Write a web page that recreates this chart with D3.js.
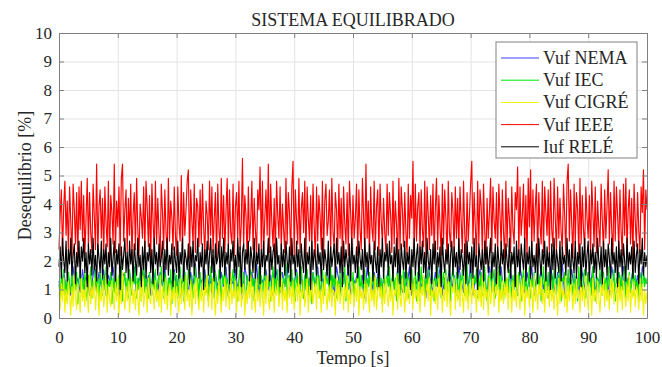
<!DOCTYPE html>
<html>
<head>
<meta charset="utf-8">
<script src="https://cdn.jsdelivr.net/npm/d3@7"></script>
<style>
    body { margin: 0; background: #fff; }
    text { font-family: "Liberation Serif", "Times New Roman", serif; fill: #262626; }
</style>
</head>
<body>
<svg id="chart"></svg>
<script>
// sampling steps of the recorded signals [s]
const dt = 0.2;
const dtNema = 0.4;
const xTicks = [0, 10, 20, 30, 40, 50, 60, 70, 80, 90, 100];
const yTicks = [0, 1, 2, 3, 4, 5, 6, 7, 8, 9, 10];
const seriesNames = ['Vuf NEMA', 'Vuf IEC', 'Vuf CIGRÉ', 'Vuf IEEE', 'Iuf RELÉ'];

const vufNema = [
    1.3,0.9,1.7,1.0,1.5,0.8,1.8,1.1,1.4,0.9, 1.7,1.0,1.5,0.8,1.2,1.8,0.9,1.6,1.1,1.7,
    0.8,1.5,1.2,1.8,1.0,1.3,0.7,1.6,1.4,0.9, 1.6,1.1,1.8,0.8,1.4,1.2,1.7,1.0,1.5,0.8,
    1.7,1.3,0.9,1.6,1.1,1.8,0.8,1.4,1.2,1.7, 1.0,1.5,0.7,1.8,1.3,0.9,1.6,1.1,1.9,0.8,
    1.4,1.2,1.7,0.9,1.5,0.8,1.8,1.3,1.0,1.6, 1.1,1.8,0.8,1.4,1.2,1.7,1.0,1.5,0.7,1.8,
    1.3,0.9,1.6,1.1,1.9,0.8,1.4,1.2,1.7,1.0, 1.5,0.8,1.8,1.3,0.9,1.6,1.1,1.8,0.8,1.4,
    1.2,1.7,1.0,1.5,0.7,1.8,1.3,0.9,1.6,1.1, 1.8,0.8,1.4,1.2,1.7,1.0,1.5,0.8,1.8,1.3,
    0.9,1.6,1.1,1.8,0.8,1.4,1.2,1.7,1.0,1.5, 0.7,1.8,1.3,0.9,1.6,1.1,1.9,0.8,1.4,1.2,
    1.7,1.0,1.5,0.8,1.8,1.3,0.9,1.6,1.1,1.8, 0.8,1.4,1.2,1.7,1.0,1.5,0.7,1.8,1.3,0.9,
    1.6,1.1,1.8,0.8,1.4,1.2,1.7,1.0,1.5,0.8, 1.8,1.3,0.9,1.6,1.1,1.9,0.8,1.4,1.2,1.7,
    1.0,1.5,0.7,1.8,1.3,0.9,1.6,1.1,1.8,0.8, 1.4,1.2,1.7,1.0,1.5,0.8,1.8,1.3,0.9,1.6,
    1.1,1.8,0.8,1.4,1.2,1.7,1.0,1.5,0.7,1.8, 1.3,0.9,1.6,1.1,1.9,0.8,1.4,1.2,1.7,1.0,
    1.5,0.8,1.8,1.3,0.9,1.6,1.1,1.8,0.8,1.4, 1.2,1.7,1.0,1.5,0.7,1.8,1.3,0.9,1.6,1.1,
    1.8,0.8,1.4,1.2,1.7,1.0,1.5,0.8,1.8,1.3, 1.2
];
const vufIec = [
    1.2,0.7,1.5,1.0,1.7,0.8,1.3,0.6,1.6,1.1,0.9,1.8,0.7,1.4,1.0,1.6,0.5,1.3,1.7,0.9,
    1.4,0.8,1.6,1.1,0.6,1.5,1.2,1.8,0.7,1.3,1.0,1.7,0.9,1.4,0.6,1.6,1.2,0.8,1.5,1.0,
    1.8,0.7,1.3,1.1,1.6,0.5,1.4,0.9,1.7,1.2,0.8,1.5,1.0,1.8,0.6,1.3,1.6,0.9,1.4,0.7,
    1.7,1.1,0.8,1.5,1.2,1.9,0.7,1.4,1.0,1.6,0.6,1.3,1.8,0.9,1.5,1.1,0.7,1.6,1.2,0.8,
    1.4,1.0,1.7,0.6,1.3,1.5,0.9,1.8,1.1,0.7,1.6,1.2,0.8,1.4,1.0,1.7,0.5,1.3,1.6,0.9,
    1.5,0.7,1.2,1.8,1.0,1.4,0.6,1.6,1.1,0.8,1.7,1.3,0.9,1.5,0.7,1.2,1.8,1.0,1.4,0.6,
    1.6,1.1,0.8,1.7,1.3,0.9,1.5,0.6,1.2,1.8,1.0,1.4,0.7,1.6,1.1,0.8,1.7,1.3,0.5,1.5,
    1.2,1.8,0.9,1.4,0.7,1.6,1.0,1.3,1.7,0.8,1.5,1.1,0.6,1.4,1.8,0.9,1.2,1.6,1.0,0.7,
    1.5,1.3,0.8,1.7,1.1,1.4,0.6,1.6,1.2,0.9,1.8,1.0,1.5,0.7,1.3,1.7,0.8,1.4,1.1,1.6,
    0.6,1.2,1.8,0.9,1.5,1.0,1.7,0.7,1.3,1.6,0.8,1.4,1.1,1.9,0.7,1.2,1.5,1.0,1.7,0.8,
    1.4,0.6,1.6,1.1,1.3,0.9,1.8,1.2,0.7,1.5,1.0,1.7,0.8,1.4,1.2,0.5,1.6,1.3,0.9,1.8,
    1.0,1.5,0.7,1.3,1.7,1.1,0.8,1.6,1.2,1.4,0.6,1.8,0.9,1.5,1.1,1.7,0.7,1.3,1.0,1.6,
    0.8,1.4,1.2,1.8,0.6,1.5,1.0,1.3,1.7,0.9,1.6,0.7,1.2,1.4,1.1,1.8,0.8,1.5,1.0,1.3,
    1.7,0.6,1.4,1.1,1.6,0.9,1.2,1.8,0.7,1.5,1.3,1.0,1.7,0.8,1.4,0.5,1.6,1.2,0.9,1.5,
    1.1,1.8,0.7,1.3,1.6,1.0,1.4,0.6,1.7,1.2,0.8,1.5,1.1,1.8,0.9,1.3,1.6,0.7,1.4,1.0,
    1.7,0.8,1.2,1.5,0.6,1.6,1.3,0.9,1.8,1.1,1.4,0.7,1.5,1.0,1.7,1.2,0.8,1.6,1.3,0.6,
    1.4,1.1,1.8,0.9,1.5,0.7,1.3,1.6,1.0,1.7,0.8,1.2,1.5,0.6,1.4,1.8,1.1,0.9,1.6,1.3,
    0.7,1.5,1.0,1.7,1.2,0.8,1.4,1.9,0.6,1.3,1.6,1.1,0.9,1.5,1.2,1.7,0.7,1.4,1.0,1.6,
    0.8,1.3,1.8,1.1,0.6,1.5,1.2,1.6,0.9,1.4,1.7,0.7,1.3,1.0,1.8,0.8,1.5,1.2,0.6,1.6,
    1.1,1.4,0.9,1.7,1.3,0.7,1.5,1.0,1.8,1.2,0.8,1.6,1.4,0.6,1.3,1.7,1.0,1.5,0.9,1.2,
    1.8,0.7,1.4,1.1,1.6,0.8,1.3,1.7,1.0,1.5,0.6,1.2,1.8,0.9,1.4,1.1,1.6,0.7,1.3,1.5,
    0.9,1.7,1.2,0.8,1.5,1.0,1.8,0.6,1.4,1.3,1.6,0.7,1.1,1.7,0.9,1.5,1.2,0.8,1.6,1.0,
    1.4,0.6,1.8,1.1,1.3,0.9,1.5,1.7,0.7,1.2,1.6,1.0,1.4,0.8,1.8,1.1,0.6,1.5,1.3,0.9,
    1.7,1.2,0.8,1.6,1.0,1.4,0.7,1.8,1.1,1.5,0.9,1.3,1.7,0.6,1.4,1.2,1.6,0.8,1.5,1.0,
    1.3,1.8,0.7,1.4,1.1,1.6,0.9,1.2,1.7,0.8,1.5,1.0,1.3,0.6,1.6,1.4,0.9,1.7,1.1,1.4,
    1.2
];
const vufCigre = [
    0.9,0.3,1.2,0.6,1.4,0.2,1.0,0.5,1.3,0.8,0.1,1.1,0.4,1.5,0.7,0.3,1.2,0.9,0.2,1.4,
    0.6,1.0,0.4,1.3,0.8,0.2,1.5,0.5,1.1,0.7,1.4,0.3,0.9,1.2,0.1,1.0,0.6,1.3,0.4,0.8,
    1.5,0.2,1.1,0.7,0.4,1.3,0.9,0.3,1.2,0.6,1.4,0.1,1.0,0.5,1.6,0.8,0.3,1.1,0.6,1.3,
    0.2,0.9,1.4,0.5,1.0,0.3,1.2,0.7,0.1,1.3,0.6,1.5,0.4,0.8,1.1,0.2,1.4,0.7,0.5,1.2,
    0.9,0.3,1.3,0.6,1.0,0.4,1.5,0.2,1.1,0.8,0.5,1.4,0.3,0.9,1.2,0.1,1.0,0.6,1.3,0.4,
    1.1,0.7,0.2,1.4,0.5,1.2,0.8,0.3,1.5,0.6,1.0,0.4,1.3,0.1,0.9,1.2,0.5,1.4,0.7,0.3,
    1.0,0.6,1.3,0.2,1.1,0.8,1.5,0.4,0.9,1.2,0.3,1.4,0.7,0.1,1.0,0.5,1.3,0.8,0.2,1.1,
    0.6,1.4,0.4,1.2,0.9,0.3,1.6,0.5,1.0,0.7,1.3,0.2,1.1,0.6,1.4,0.4,0.8,1.2,0.1,1.0,
    0.5,1.3,0.7,1.5,0.3,1.1,0.8,0.2,1.4,0.6,1.0,0.4,1.2,0.9,0.1,1.3,0.5,1.5,0.7,0.3,
    1.1,0.6,1.4,0.2,1.0,0.8,1.3,0.4,0.9,1.5,0.3,1.2,0.6,1.0,0.2,1.4,0.7,1.1,0.5,1.3,
    0.3,0.9,1.2,0.6,1.5,0.1,1.0,0.7,1.3,0.4,0.8,1.4,0.2,1.1,0.6,1.3,0.5,0.9,1.2,0.3,
    1.4,0.7,1.0,0.2,1.2,0.5,1.5,0.8,0.3,1.1,0.6,1.3,0.4,1.0,0.9,0.1,1.4,0.6,1.2,0.5,
    0.8,1.3,0.3,1.1,0.7,1.5,0.2,1.0,0.5,1.3,0.9,0.4,1.2,0.6,1.4,0.1,1.1,0.7,1.0,0.3,
    1.3,0.5,1.2,0.8,0.2,1.4,0.6,1.0,0.4,1.5,0.3,0.9,1.3,0.7,1.1,0.2,1.2,0.5,1.4,0.8,
    0.4,1.1,0.6,1.3,0.1,1.0,0.8,1.5,0.3,1.2,0.7,0.4,1.4,0.9,0.2,1.1,0.6,1.3,0.5,1.0,
    1.2,0.3,1.4,0.7,1.0,0.5,1.3,0.2,1.1,0.8,1.5,0.4,0.9,1.2,0.6,1.4,0.1,1.0,0.7,1.3,
    0.5,1.1,0.3,1.4,0.8,1.2,0.2,1.0,0.6,1.5,0.4,1.3,0.7,0.1,1.1,0.9,1.4,0.3,1.2,0.6,
    1.0,0.4,1.3,0.8,0.2,1.5,0.6,1.1,0.3,1.2,0.9,0.5,1.4,0.7,1.0,0.2,1.3,0.6,1.1,0.4,
    1.5,0.3,1.2,0.7,1.0,0.1,1.4,0.5,0.9,1.3,0.4,1.1,0.8,1.6,0.2,1.0,0.6,1.3,0.5,1.2,
    0.7,1.4,0.3,1.1,0.9,0.2,1.3,0.6,1.0,0.4,1.5,0.8,0.3,1.2,0.6,1.4,0.1,1.1,0.7,1.0,
    0.4,1.3,0.9,0.2,1.5,0.6,1.1,0.3,1.2,0.8,1.4,0.5,1.0,0.2,1.3,0.7,1.1,0.4,1.4,0.6,
    1.0,0.3,1.2,0.8,0.1,1.4,0.5,1.3,0.7,1.0,0.4,1.5,0.2,1.1,0.6,1.3,0.9,0.3,1.2,0.5,
    1.4,0.7,1.0,0.2,1.3,0.6,1.1,0.4,1.5,0.8,0.3,1.2,0.9,0.1,1.4,0.6,1.0,0.5,1.3,0.7,
    0.2,1.1,0.8,1.4,0.4,1.2,0.6,1.0,0.3,1.5,0.7,1.3,0.5,0.9,1.2,0.2,1.4,0.6,1.1,0.3,
    1.3,0.8,0.4,1.2,0.6,1.5,0.2,1.0,0.7,1.3,0.4,1.1,0.9,0.3,1.4,0.6,1.2,0.1,1.0,0.5,
    0.9
];
const vufIeee = [
    2.4,3.6,4.5,2.2,3.9,4.8,2.9,4.1,2.3,4.6,3.4,2.1,4.7,3.8,2.6,4.4,2.0,4.6,3.1,4.8,
    2.7,4.3,2.2,3.5,4.9,2.5,4.4,3.0,2.3,4.7,3.6,2.4,5.4,2.2,3.9,4.5,2.8,4.2,2.1,4.6,
    3.3,2.5,4.8,2.0,4.3,3.7,2.6,5.4,2.3,4.1,3.2,4.6,2.2,4.9,5.4,2.7,3.8,4.5,2.3,4.2,
    2.9,4.7,2.1,3.6,4.4,2.4,4.9,3.1,2.2,4.0,3.5,2.8,4.6,2.3,4.8,3.9,2.5,4.3,2.0,4.7,
    3.4,2.3,4.8,2.6,4.2,3.0,2.0,4.7,3.7,2.4,4.5,3.0,2.2,4.9,2.7,4.1,3.5,2.4,4.6,2.9,
    2.2,4.6,3.3,2.7,5.0,2.3,4.4,2.9,3.8,4.8,5.2,2.1,4.5,3.4,2.6,4.7,2.3,4.2,3.9,2.5,
    4.5,2.6,4.7,3.2,2.2,4.1,3.6,2.4,4.8,2.9,4.6,2.3,3.5,4.4,2.0,4.7,3.1,2.5,4.9,2.8,
    4.3,2.3,3.7,4.9,2.5,4.5,3.0,2.6,4.7,2.2,3.9,4.4,2.8,4.8,2.4,3.3,5.6,2.5,4.3,3.6,
    2.1,4.6,2.7,3.4,4.8,2.4,4.2,3.1,2.2,4.5,3.8,5.3,2.4,4.8,2.2,3.5,4.5,2.9,5.4,2.3,
    4.7,3.3,2.5,4.2,2.1,4.8,3.6,2.8,4.6,2.4,4.0,3.1,2.3,4.9,2.6,4.4,3.7,2.2,4.6,5.5,
    2.2,4.5,3.4,2.6,4.9,2.3,3.8,4.4,3.0,4.8,2.1,4.6,3.5,2.7,4.3,2.4,4.7,3.2,2.0,4.6,
    2.7,4.3,3.6,2.4,4.8,2.2,4.1,4.7,2.9,3.4,4.5,2.3,4.9,3.0,2.5,4.4,3.8,2.3,4.7,2.8,
    4.2,2.0,4.6,3.3,2.6,4.4,2.2,4.8,3.7,2.5,4.3,2.8,3.5,4.7,2.2,4.5,3.1,2.4,4.9,3.6,
    2.3,5.4,2.8,4.1,2.1,4.6,3.2,2.7,4.8,2.4,3.9,4.5,2.2,4.7,3.4,2.6,4.2,3.0,2.3,4.7,
    2.9,4.4,3.6,2.3,4.8,2.6,4.1,3.3,2.1,4.9,2.4,4.6,3.8,2.5,4.4,3.0,2.2,4.7,2.8,4.3,
    3.5,5.5,2.2,4.7,2.7,3.9,4.4,2.3,4.5,3.1,2.5,4.8,2.1,4.6,3.6,2.4,4.3,2.9,4.7,2.2,
    3.8,4.9,2.4,4.3,3.2,2.2,4.7,2.6,4.5,3.5,2.0,4.8,3.0,2.5,4.4,3.7,2.3,4.6,2.8,4.2,
    2.5,4.6,3.4,2.3,4.8,3.0,2.1,4.4,2.7,3.6,4.7,5.5,2.6,4.4,3.2,2.1,4.8,2.6,4.5,3.9,
    2.2,4.7,3.1,1.9,4.2,2.8,3.7,4.9,2.3,4.6,3.4,2.8,4.4,2.2,4.7,3.6,2.5,4.5,3.0,2.1,
    4.8,2.5,4.2,3.5,2.3,4.6,3.1,2.6,4.4,3.8,5.3,2.2,4.6,2.9,3.6,4.7,2.4,4.3,2.1,4.9,
    3.2,5.2,2.4,4.5,2.7,3.9,4.7,2.1,4.4,3.3,2.6,4.8,2.3,4.6,3.7,2.9,4.5,2.2,4.8,3.1,
    2.5,4.9,3.5,2.3,4.6,2.8,4.2,3.0,2.4,4.7,3.6,2.2,4.8,5.4,2.7,4.5,3.3,2.1,4.7,2.6,
    4.4,3.8,2.2,4.9,2.6,4.3,3.1,2.4,4.6,3.5,2.8,4.3,2.1,4.8,3.7,2.5,4.6,2.3,4.1,3.2,
    2.5,4.7,3.4,2.3,4.5,2.8,3.9,5.2,2.6,4.4,3.1,2.2,4.8,2.7,4.6,3.6,2.4,4.5,3.0,2.2,
    4.7,2.9,4.9,2.3,3.8,4.5,2.6,4.2,2.1,4.7,3.4,2.5,4.4,3.1,2.3,4.6,3.7,5.2,2.4,4.5,
    3.8
];
const iufRele = [
    1.8,2.5,1.4,2.8,2.0,1.6,2.7,1.3,2.4,1.9,2.8,1.5,2.2,2.6,1.2,2.3,1.8,2.7,1.4,2.5,
    2.0,2.8,1.6,2.3,1.1,2.6,1.9,2.4,1.5,2.8,1.7,2.2,1.3,2.6,2.1,1.6,2.7,1.4,2.4,1.9,
    2.6,1.2,2.3,1.8,2.8,1.5,2.1,2.7,1.3,2.4,1.9,2.6,1.0,2.5,1.7,2.2,2.8,1.6,2.3,1.4,
    2.7,1.9,2.4,1.3,2.6,2.0,1.5,2.8,1.8,2.2,1.1,2.5,1.7,2.7,1.4,2.3,2.0,2.6,1.6,2.4,
    1.2,2.8,1.9,2.3,1.5,2.6,1.8,2.1,2.7,1.3,2.4,1.7,2.8,1.5,2.2,1.9,2.6,1.1,2.5,2.0,
    1.6,2.7,1.4,2.3,1.9,2.8,1.3,2.4,2.1,1.7,2.6,1.2,2.5,1.8,2.7,1.5,2.2,2.0,2.8,1.4,
    2.3,1.8,2.6,1.0,2.4,1.9,2.7,1.5,2.2,2.8,1.6,2.4,1.3,2.6,1.9,2.1,2.7,1.4,2.5,1.8,
    2.8,1.5,2.3,1.9,2.6,1.2,2.4,2.0,2.7,1.6,2.2,1.4,2.8,1.8,2.5,1.1,2.3,2.6,1.7,2.4,
    1.9,2.7,1.3,2.5,2.1,1.6,2.8,1.4,2.3,1.9,2.6,1.2,2.4,1.8,2.7,1.5,2.2,2.0,2.8,1.3,
    2.5,1.7,2.3,2.6,1.4,2.8,1.9,2.2,1.1,2.6,1.8,2.4,1.5,2.7,2.0,1.6,2.5,1.3,2.8,1.9,
    2.2,1.5,2.7,1.8,2.4,1.2,2.6,2.0,1.6,2.8,1.4,2.3,1.9,2.5,1.0,2.7,1.7,2.4,2.1,1.5,
    2.6,1.9,2.3,1.3,2.8,1.7,2.4,2.0,1.5,2.7,1.2,2.5,1.8,2.2,2.6,1.4,2.8,1.9,2.3,1.6,
    2.5,1.1,2.7,1.8,2.4,2.0,1.5,2.6,1.3,2.8,1.9,2.2,1.6,2.5,1.4,2.7,2.1,1.7,2.4,1.2,
    2.8,1.8,2.3,1.5,2.6,1.9,2.2,1.3,2.7,2.0,1.6,2.5,1.1,2.4,1.8,2.8,1.4,2.3,2.0,2.6,
    1.5,2.7,1.9,2.2,1.3,2.5,1.8,2.8,1.6,2.4,1.2,2.6,2.0,1.7,2.7,1.4,2.3,1.9,2.5,1.0,
    2.4,1.8,2.8,1.5,2.2,2.6,1.3,2.5,1.9,2.7,1.6,2.3,1.4,2.8,2.0,1.7,2.4,1.2,2.6,1.9,
    2.7,1.4,2.3,1.8,2.5,1.1,2.8,2.0,1.6,2.4,1.9,2.6,1.3,2.2,2.7,1.5,2.5,1.8,2.3,1.4,
    2.8,1.7,2.4,2.0,1.5,2.6,1.2,2.7,1.9,2.3,1.6,2.5,1.4,2.8,1.8,2.2,1.0,2.6,2.1,1.7,
    2.4,1.3,2.7,1.9,2.5,1.6,2.2,2.8,1.4,2.3,1.8,2.6,1.2,2.5,2.0,1.5,2.7,1.9,2.4,1.3,
    2.6,2.0,1.6,2.8,1.4,2.3,1.9,2.5,1.1,2.7,1.8,2.4,1.5,2.6,2.1,1.7,2.8,1.3,2.3,1.9,
    2.5,1.4,2.7,1.8,2.2,1.6,2.6,1.2,2.8,2.0,1.5,2.4,1.9,2.7,1.3,2.5,1.8,2.3,1.0,2.6,
    1.7,2.8,1.4,2.4,2.0,1.6,2.7,1.3,2.5,1.9,2.2,1.5,2.8,1.8,2.4,1.2,2.6,2.0,1.6,2.7,
    1.4,2.3,1.9,2.6,1.1,2.5,1.8,2.8,1.5,2.2,2.7,1.3,2.4,1.9,2.6,1.6,2.3,1.4,2.8,2.0,
    1.7,2.5,1.2,2.7,1.8,2.4,1.5,2.6,2.1,1.4,2.8,1.9,2.3,1.6,2.5,1.1,2.7,1.8,2.4,1.5,
    2.6,2.0,1.3,2.8,1.7,2.3,1.9,2.5,1.4,2.7,1.6,2.2,2.6,1.2,2.4,1.9,2.8,1.5,2.3,1.8,
    2.2
];

const seriesValues = [vufNema, vufIec, vufCigre, vufIeee, iufRele];
const seriesSteps = [dtNema, dt, dt, dt, dt];
const seriesColors = ['#3f3fff', '#00e600', '#f0f000', '#ff0000', '#000000'];

const svgWidth = 662, svgHeight = 367;
const margin = { top: 33, right: 15, bottom: 49, left: 59 };
const width = svgWidth - margin.left - margin.right;
const height = svgHeight - margin.top - margin.bottom;

const svg = d3.select('#chart')
    .attr('width', svgWidth)
    .attr('height', svgHeight);
const g = svg.append('g')
    .attr('transform', 'translate(' + margin.left + ',' + margin.top + ')');

const xScale = d3.scaleLinear().domain([0, 100]).range([0, width]);
const yScale = d3.scaleLinear().domain([0, 10]).range([height, 0]);

// grid
g.append('g')
    .attr('transform', 'translate(0,' + height + ')')
    .call(d3.axisBottom(xScale).tickValues(xTicks).tickSize(-height).tickFormat(''))
    .call(s => s.selectAll('line').attr('stroke', '#e3e3e3'))
    .call(s => s.select('.domain').remove());
g.append('g')
    .call(d3.axisLeft(yScale).tickValues(yTicks).tickSize(-width).tickFormat(''))
    .call(s => s.selectAll('line').attr('stroke', '#e3e3e3'))
    .call(s => s.select('.domain').remove());

// lines
g.append('g')
    .selectAll('path')
    .data(seriesValues)
    .enter()
    .append('path')
    .attr('fill', 'none')
    .attr('stroke', (d, i) => seriesColors[i])
    .attr('stroke-width', 1.15)
    .attr('stroke-linejoin', 'round')
    .attr('d', (d, k) => d3.line()
        .x((v, i) => xScale(i * seriesSteps[k]))
        .y(v => yScale(v))(d));

// axes, MATLAB style: inward ticks on all four sides
const axisColor = '#808080';
const styleAxis = s => {
    s.selectAll('line').attr('stroke', axisColor);
    s.select('.domain').attr('stroke', axisColor);
    s.selectAll('text').attr('font-size', 17).attr('fill', '#262626')
        .attr('font-family', '"Liberation Serif", "Times New Roman", serif');
};
g.append('g')
    .attr('transform', 'translate(0,' + height + ')')
    .call(d3.axisBottom(xScale).tickValues(xTicks).tickSizeInner(-5).tickSizeOuter(0).tickPadding(13))
    .call(styleAxis);
g.append('g')
    .call(d3.axisTop(xScale).tickValues(xTicks).tickSizeInner(-5).tickSizeOuter(0).tickFormat(''))
    .call(styleAxis);
g.append('g')
    .call(d3.axisLeft(yScale).tickValues(yTicks).tickSizeInner(-5).tickSizeOuter(0).tickPadding(7))
    .call(styleAxis);
g.append('g')
    .attr('transform', 'translate(' + width + ',0)')
    .call(d3.axisRight(yScale).tickValues(yTicks).tickSizeInner(-5).tickSizeOuter(0).tickFormat(''))
    .call(styleAxis);

// titles
svg.append('text')
    .attr('x', margin.left + width / 2)
    .attr('y', 26)
    .attr('text-anchor', 'middle')
    .attr('font-size', 18)
    .text('SISTEMA EQUILIBRADO');
svg.append('text')
    .attr('x', margin.left + width / 2)
    .attr('y', 364)
    .attr('text-anchor', 'middle')
    .attr('font-size', 18)
    .text('Tempo [s]');
svg.append('text')
    .attr('transform', 'translate(31,' + (margin.top + height / 2) + ') rotate(-90)')
    .attr('text-anchor', 'middle')
    .attr('font-size', 18)
    .text('Desequilíbrio [%]');

// legend
const legend = svg.append('g').attr('transform', 'translate(496,42)');
legend.append('rect')
    .attr('width', 141)
    .attr('height', 116)
    .attr('fill', '#fff')
    .attr('stroke', '#808080');
const entry = legend.selectAll('.entry')
    .data(seriesNames)
    .enter()
    .append('g')
    .attr('transform', (d, i) => 'translate(0,' + (16 + i * 22.2) + ')');
entry.append('line')
    .attr('x1', 5).attr('x2', 43)
    .attr('stroke', (d, i) => seriesColors[i])
    .attr('stroke-width', 1);
entry.append('text')
    .attr('x', 47)
    .attr('dy', '0.33em')
    .attr('font-size', 18)
    .text(d => d);
</script>
</body>
</html>
